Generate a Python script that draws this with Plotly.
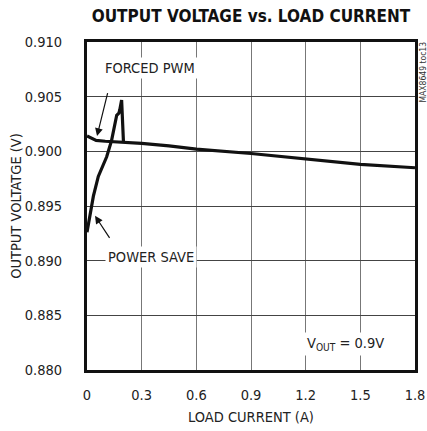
import plotly.graph_objects as go

# Data
forced_x = [0, 0.05, 0.1, 0.2, 0.3, 0.45, 0.6, 0.9, 1.2, 1.5, 1.8]
forced_v = [0.9014, 0.9010, 0.90092, 0.90085, 0.90072, 0.9005, 0.9002, 0.8998, 0.8993, 0.8988, 0.8985]

power_x = [0, 0.01, 0.035, 0.062, 0.085, 0.108, 0.135, 0.163, 0.175, 0.18, 0.19, 0.195, 0.2]
power_v = [0.8926, 0.8935, 0.8959, 0.8977, 0.8987, 0.8995, 0.9010, 0.9033, 0.9035, 0.9038, 0.9047, 0.9030, 0.9009]

x_ticks = [0, 0.3, 0.6, 0.9, 1.2, 1.5, 1.8]
x_tick_labels = ["0", "0.3", "0.6", "0.9", "1.2", "1.5", "1.8"]
y_ticks = [0.880, 0.885, 0.890, 0.895, 0.900, 0.905, 0.910]
y_tick_labels = ["0.880", "0.885", "0.890", "0.895", "0.900", "0.905", "0.910"]

FONT = "DejaVu Sans Condensed, Liberation Sans Narrow, sans-serif"
TXT = dict(family=FONT, size=14.5, color="#222222")

fig = go.Figure()
fig.add_trace(go.Scatter(x=forced_x, y=forced_v, mode="lines",
                         line=dict(color="#111111", width=3.2), showlegend=False))
fig.add_trace(go.Scatter(x=power_x, y=power_v, mode="lines",
                         line=dict(color="#111111", width=3.2), showlegend=False))

fig.update_layout(
    width=427, height=431,
    margin=dict(l=87, r=12, t=42, b=61, autoexpand=False),
    paper_bgcolor="white", plot_bgcolor="white",
    font=TXT,
    title=dict(text="<b>OUTPUT VOLTAGE vs. LOAD CURRENT</b>",
               x=(87 + 415) / 2 / 427, xanchor="center", y=1 - 16 / 431, yanchor="middle",
               font=dict(family=FONT, size=17, color="#111111")),
)

fig.update_xaxes(range=[0, 1.8], tickvals=x_ticks, ticktext=x_tick_labels,
                 showgrid=True, gridcolor="#777777", gridwidth=1,
                 showline=True, linecolor="#111111", linewidth=3, mirror=True,
                 ticks="", ticklabelstandoff=10, zeroline=False, automargin=False,
                 tickfont=TXT,
                 title=dict(text="LOAD CURRENT (A)", standoff=10, font=TXT))
fig.update_yaxes(range=[0.880, 0.910], tickvals=y_ticks, ticktext=y_tick_labels,
                 showgrid=True, gridcolor="#444444", gridwidth=1,
                 showline=True, linecolor="#111111", linewidth=3, mirror=True,
                 ticks="", ticklabelstandoff=19, zeroline=False, automargin=False,
                 tickfont=TXT,
                 title=dict(text="OUTPUT VOLTATGE (V)", standoff=0, font=TXT))

# Text labels with white boxes (interrupt the grid as in the reference)
fig.add_annotation(x=0.346, y=0.90763, text="FORCED PWM", showarrow=False,
                   bgcolor="white", borderpad=2, font=TXT)
fig.add_annotation(x=0.351, y=0.89034, text="POWER SAVE", showarrow=False,
                   bgcolor="white", borderpad=2, font=TXT)
fig.add_annotation(x=1.42, y=0.88238, text="V<sub>OUT</sub> = 0.9V", showarrow=False,
                   bgcolor="white", borderpad=2, font=TXT)

# Arrows
fig.add_annotation(x=0.055, y=0.9014, ax=0.126, ay=0.9062, axref="x", ayref="y",
                   xref="x", yref="y", text=" ", showarrow=True,
                   arrowhead=2, arrowsize=1.3, arrowwidth=1.2, arrowcolor="#111111")
fig.add_annotation(x=0.044, y=0.8941, ax=0.143, ay=0.8916, axref="x", ayref="y",
                   xref="x", yref="y", text=" ", showarrow=True,
                   arrowhead=2, arrowsize=1.3, arrowwidth=1.2, arrowcolor="#111111")

# Side code
fig.add_annotation(xref="paper", yref="paper", x=1.0, xshift=7, y=1.0, yshift=2,
                   xanchor="center", yanchor="top",
                   text="MAX8649 toc13", textangle=-90, showarrow=False,
                   font=dict(family=FONT, size=8.5, color="#333333"))

fig.write_html("out.html", config={"displayModeBar": False},
               post_script="document.body.style.margin='0';")
